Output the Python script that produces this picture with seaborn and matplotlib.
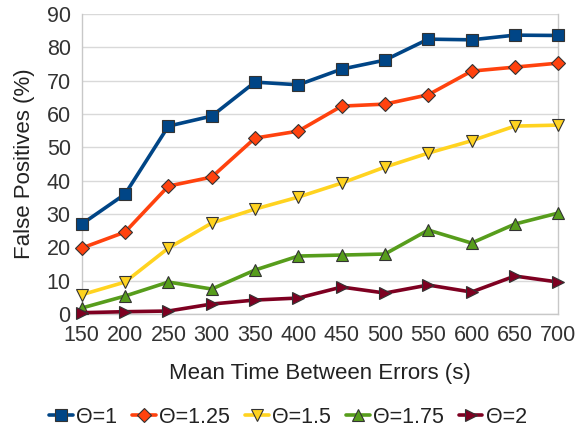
import matplotlib
matplotlib.use("Agg")
import matplotlib.pyplot as plt
import seaborn as sns
import pandas as pd

mtbe = [150, 200, 250, 300, 350, 400, 450, 500, 550, 600, 650, 700]
theta_1 = [27.0, 36.0, 56.4, 59.4, 69.6, 68.8, 73.5, 76.2, 82.5, 82.3, 83.7, 83.6]
theta_125 = [19.8, 24.6, 38.4, 41.1, 52.8, 54.9, 62.4, 63.0, 65.8, 72.9, 74.1, 75.3]
theta_15 = [5.8, 9.6, 19.8, 27.3, 31.5, 35.1, 39.3, 44.1, 48.3, 52.0, 56.4, 56.7]
theta_175 = [1.8, 5.4, 9.6, 7.5, 13.2, 17.4, 17.7, 18.0, 25.2, 21.3, 27.0, 30.3]
theta_2 = [0.4, 0.7, 0.9, 3.0, 4.2, 4.8, 8.1, 6.3, 8.7, 6.6, 11.4, 9.6]

series_names = ["\u0398=1", "\u0398=1.25", "\u0398=1.5", "\u0398=1.75", "\u0398=2"]
series_values = [theta_1, theta_125, theta_15, theta_175, theta_2]
colors = ["#004586", "#ff420e", "#ffd320", "#579d1c", "#7e0021"]
markers = ["s", "D", "v", "^", ">"]
marker_sizes = [9, 7, 9, 9, 9]

rows = []
for name, vals in zip(series_names, series_values):
    for x, y in zip(mtbe, vals):
        rows.append({"MTBE": x, "FP": y, "Theta": name})
df = pd.DataFrame(rows)

sns.set_theme(style="white")
plt.rcParams["font.family"] = ["Liberation Sans", "DejaVu Sans"]

fig = plt.figure(figsize=(5.76, 4.29), dpi=100)
ax = fig.add_axes([0.142, 0.268, 0.827, 0.699])

for name, c, m, ms in zip(series_names, colors, markers, marker_sizes):
    sub = df[df["Theta"] == name]
    sns.lineplot(data=sub, x="MTBE", y="FP", ax=ax, color=c, marker=m,
                 markersize=ms, markeredgecolor="#333333", markeredgewidth=0.8,
                 linewidth=2.6, label=name, clip_on=False, zorder=3)

ax.set_xlim(150, 700)
ax.set_ylim(0, 90)
ax.set_xticks(mtbe)
ax.set_yticks(range(0, 91, 10))
ax.yaxis.grid(True, color="#d9d9d9", linewidth=1.0)
ax.xaxis.grid(False)
for side in ["left", "bottom", "right"]:
    ax.spines[side].set_color("#c8c8c8")
    ax.spines[side].set_linewidth(1.0)
ax.spines["top"].set_visible(False)
ax.tick_params(axis="both", which="both", direction="out", length=5, width=1,
               color="#c8c8c8", labelsize=15.5, labelcolor="#333333", pad=3)
ax.set_xlabel("Mean Time Between Errors (s)", fontsize=16, color="#222222", labelpad=12)
ax.set_ylabel("False Positives (%)", fontsize=16, color="#222222", labelpad=8)

handles, labels = ax.get_legend_handles_labels()
ax.get_legend().remove()
fig.legend(handles, labels, loc="center", bbox_to_anchor=(0.5, 0.027), ncol=5,
           frameon=False, fontsize=15.5, handlelength=1.1, handletextpad=0.15,
           columnspacing=0.7, labelcolor="#222222")

fig.savefig("out.png", dpi=100)
